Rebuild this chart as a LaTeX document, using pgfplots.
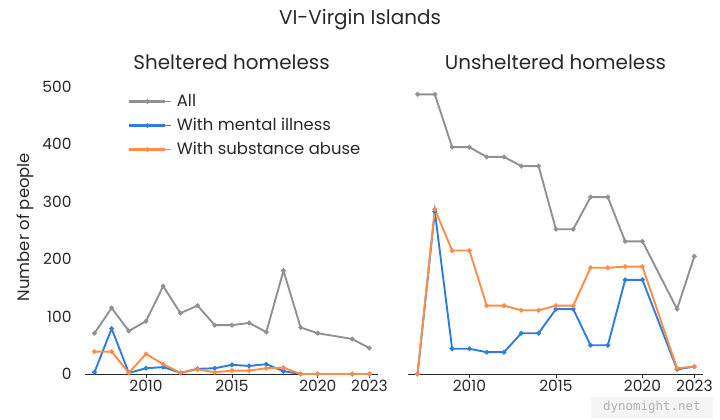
\documentclass[border=0pt]{standalone}
\usepackage{pgfplots}
\pgfplotsset{compat=1.18}
\usepackage{fontspec}
\setmainfont{Poppins}
\newfontfamily\monofont{DejaVu Sans Mono}
\definecolor{cgray}{RGB}{145,145,145}
\definecolor{cblue}{RGB}{45,125,222}
\definecolor{corange}{RGB}{255,140,72}
\definecolor{ctext}{RGB}{40,40,40}
\begin{document}
\begin{tikzpicture}
\useasboundingbox (0bp,0bp) rectangle (720bp,420bp);
\pgfplotsset{
  panel/.style={
    scale only axis, width=293bp, height=294bp,
    xmin=2006.45, xmax=2023.5, ymin=0, ymax=512,
    axis x line=bottom, axis y line=left,
    axis line style={-, draw=ctext, line width=1pt},
    y axis line style={draw=none},
    ytick style={draw=none},
    xtick={2010,2015,2020,2023},
    xticklabels={2010,2015,2020,2023},
    tick align=outside, major tick length=4bp,
    xtick style={draw=ctext, line width=0.8pt},
    ytick={0,100,200,300,400,500},
    ticklabel style={font=\fontsize{15.5}{17}\selectfont, text=ctext},
    xticklabel style={yshift=1bp},
    /pgf/number format/assume math mode=true,
    clip=false,
    every axis plot/.append style={line width=1.9bp, mark=*, mark size=1.3bp},
    every axis title shift=0pt,
    title style={font=\fontsize{20}{22}\selectfont, text=ctext, at={(axis description cs:0.5,1)}, anchor=base, yshift=10bp},
  }
}
\node[anchor=base, text=ctext, font=\fontsize{20}{22}\selectfont] at (360bp,395bp) {VI-Virgin Islands};
\begin{axis}[panel, at={(85bp,46bp)}, anchor=south west,
  title={Sheltered homeless},
  ylabel={Number of people},
  ylabel style={font=\fontsize{16.5}{18}\selectfont, text=ctext, at={(axis description cs:-0.205,0.5)}, anchor=center},
  yticklabels={0,100,200,300,400,500},
  yticklabel style={xshift=-6bp},
  legend style={draw=none, fill=none, at={(axis description cs:0.137,0.975)}, anchor=north west, font=\fontsize{16.5}{18}\selectfont, text=ctext, row sep=0bp, nodes={text height=12bp, text depth=3bp, inner sep=4.5bp}},
  legend cell align=left,
  legend image code/.code={\path (0bp,0bp) -- (42bp,0bp); \draw[#1, solid, mark=none, /tikz/line width=2.2bp] (0bp,0bp) -- (36bp,0bp); \draw[#1, mark=*, mark size=1.2bp, only marks] plot coordinates {(18bp,0bp)};},
]
\addplot[cgray, mark options={fill=cgray, draw=cgray}] coordinates {
(2007,71)(2008,115)(2009,75)(2010,92)(2011,153)(2012,106)(2013,119)(2014,85)(2015,85)(2016,89)(2017,73)(2018,180)(2019,81)(2020,71)(2022,61)(2023,45)};
\addlegendentry{All}
\addplot[cblue, mark options={fill=cblue, draw=cblue}] coordinates {
(2007,3)(2008,79)(2009,2)(2010,10)(2011,12)(2012,2)(2013,9)(2014,10)(2015,16)(2016,14)(2017,17)(2018,5)(2019,0)(2020,0)(2022,0)(2023,0)};
\addlegendentry{With mental illness}
\addplot[corange, mark options={fill=corange, draw=corange}] coordinates {
(2007,39)(2008,39)(2009,2)(2010,35)(2011,17)(2012,2)(2013,8)(2014,3)(2015,6)(2016,6)(2017,10)(2018,11)(2019,0)(2020,0)(2022,0)(2023,0)};
\addlegendentry{With substance abuse}
\end{axis}
\begin{axis}[panel, at={(408bp,46bp)}, anchor=south west, width=295bp,
  title={Unsheltered homeless},
  yticklabels={},
]
\addplot[cgray, mark options={fill=cgray, draw=cgray}] coordinates {
(2007,487)(2008,487)(2009,395)(2010,395)(2011,378)(2012,378)(2013,362)(2014,362)(2015,252)(2016,252)(2017,308)(2018,308)(2019,231)(2020,231)(2022,113)(2023,205)};
\addplot[cblue, mark options={fill=cblue, draw=cblue}] coordinates {
(2007,0)(2008,283)(2009,44)(2010,44)(2011,38)(2012,38)(2013,71)(2014,71)(2015,113)(2016,113)(2017,50)(2018,50)(2019,164)(2020,164)(2022,8)(2023,13)};
\addplot[corange, mark options={fill=corange, draw=corange}] coordinates {
(2007,0)(2008,287)(2009,215)(2010,215)(2011,119)(2012,119)(2013,111)(2014,111)(2015,119)(2016,119)(2017,185)(2018,185)(2019,187)(2020,187)(2022,10)(2023,13)};
\end{axis}
\node[anchor=south east, fill=black!4, minimum height=21bp, minimum width=122bp, text=black!30, font=\monofont\fontsize{12.5}{14}\selectfont] at (713bp,2bp) {dynomight.net};
\end{tikzpicture}
\end{document}
